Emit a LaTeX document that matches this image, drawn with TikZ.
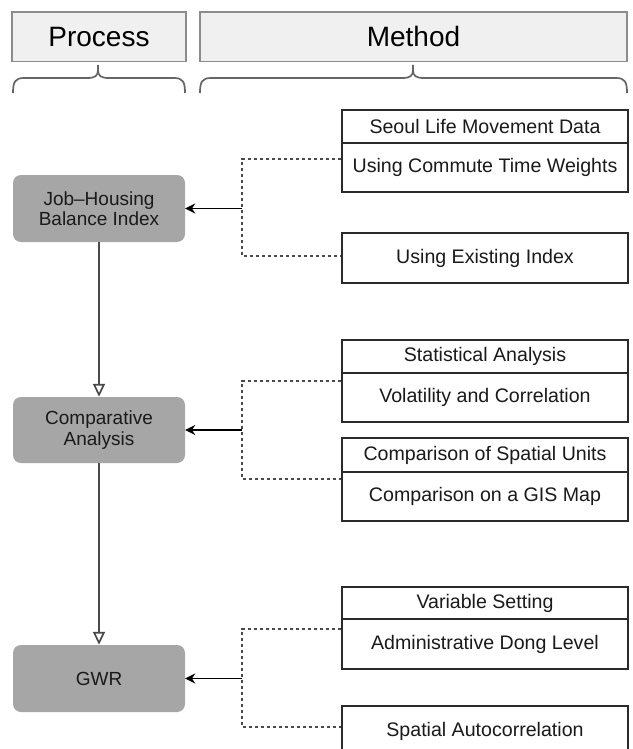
\documentclass[tikz,border=0pt]{standalone}
\usepackage{fontspec}
\setmainfont{Liberation Sans}
\usetikzlibrary{arrows.meta}
\definecolor{hdrfill}{HTML}{F0F0F0}
\definecolor{hdrline}{HTML}{8C8C8C}
\definecolor{procfill}{HTML}{A6A6A6}
\definecolor{txt}{HTML}{1A1A1A}
\definecolor{boxline}{HTML}{2A2A2A}
\definecolor{dashcol}{HTML}{4A4A4A}
\definecolor{bracecol}{HTML}{666666}
\begin{document}
\begin{tikzpicture}[x=1pt,y=-1pt,
 hdr/.style={draw=hdrline, fill=hdrfill, line width=1.6pt, inner sep=0pt, minimum height=49.5pt, font=\fontsize{28}{30}\selectfont, text=black},
 proc/.style={fill=procfill, rounded corners=8pt, minimum width=172pt, inner sep=0pt, font=\fontsize{19}{20.5}\selectfont, text=txt, align=center},
 mbox/.style={draw=boxline, fill=white, line width=1.8pt, minimum width=286pt, inner sep=0pt, font=\fontsize{19.6}{22}\selectfont, text=txt},
 dline/.style={draw=dashcol, line width=1.7pt, dash pattern=on 3.5pt off 2.5pt},
 larr/.style={draw=black, line width=1.9pt, -{Stealth[length=10pt,width=10pt]}},
 darr/.style={draw=dashcol, line width=1.7pt, -{Triangle[open,length=13pt,width=12pt,fill=white]}},
 brace/.style={draw=bracecol, line width=1.7pt}]
\useasboundingbox[fill=white] (0,0) rectangle (632,749);

% headers
\node[hdr, minimum width=174pt] (hproc) at (99,36.75) {Process};
\node[hdr, minimum width=427pt] (hmeth) at (413.5,36.75) {Method};

% braces
\draw[brace] (13,93) .. controls (13,82) and (15,78) .. (24,78) -- (87,78) .. controls (95,78) and (98,76) .. (98,70) -- (98,65);
\draw[brace] (185,93) .. controls (185,82) and (183,78) .. (174,78) -- (109,78) .. controls (101,78) and (98,76) .. (98,70);
\draw[brace] (200,93) .. controls (200,82) and (202,78) .. (211,78) -- (402,78) .. controls (410,78) and (413,76) .. (413,70) -- (413,65);
\draw[brace] (627,93) .. controls (627,82) and (625,78) .. (616,78) -- (424,78) .. controls (416,78) and (413,76) .. (413,70);

% process boxes
\node[proc, minimum height=67pt] (jh) at (99,208.5) {Job\char"2013 Housing\\Balance Index};
\node[proc, minimum height=66pt] (ca) at (99,430) {Comparative\\Analysis};
\node[proc, minimum height=67pt] (gwr) at (99,678.5) {GWR};

% method boxes
\node[mbox, minimum height=33pt] (b1a) at (485,126.5) {Seoul Life Movement Data};
\node[mbox, minimum height=49pt] (b1b) at (485,167.5) {Using Commute Time Weights};
\node[mbox, minimum height=50pt] (b1c) at (485,258) {Using Existing Index};

\node[mbox, minimum height=33pt] (b2a) at (485,356.5) {Statistical Analysis};
\node[mbox, minimum height=49pt] (b2b) at (485,397.5) {Volatility and Correlation};
\node[mbox, minimum height=34pt] (b2c) at (485,455) {Comparison of Spatial Units};
\node[mbox, minimum height=49pt] (b2d) at (485,496.5) {Comparison on a GIS Map};

\node[mbox, minimum height=32pt] (b3a) at (485,603) {Variable Setting};
\node[mbox, minimum height=50pt] (b3b) at (485,644) {Administrative Dong Level};
\node[mbox, minimum height=50pt] (b3c) at (485,731) {Spatial Autocorrelation};

% dashed connectors
\coordinate (t1) at (242,159); \coordinate (u1) at (242,256);
\coordinate (t2) at (242,381); \coordinate (u2) at (242,479);
\coordinate (t3) at (242,629); \coordinate (u3) at (242,727);
\draw[dline] (t1 -| b1b.west) -- (t1) -- (u1) -- (u1 -| b1c.west);
\draw[dline] (t2 -| b2b.west) -- (t2) -- (u2) -- (u2 -| b2d.west);
\draw[dline] (t3 -| b3b.west) -- (t3) -- (u3) -- (u3 -| b3c.west);

% arrows into process boxes
\draw[larr] (jh.east -| t1) -- (jh.east);
\draw[larr] (ca.east -| t2) -- (ca.east);
\draw[larr] (gwr.east -| t3) -- (gwr.east);

% flow arrows
\draw[darr] (jh.south) -- (ca.north);
\draw[darr] (ca.south) -- (gwr.north);
\end{tikzpicture}
\end{document}
